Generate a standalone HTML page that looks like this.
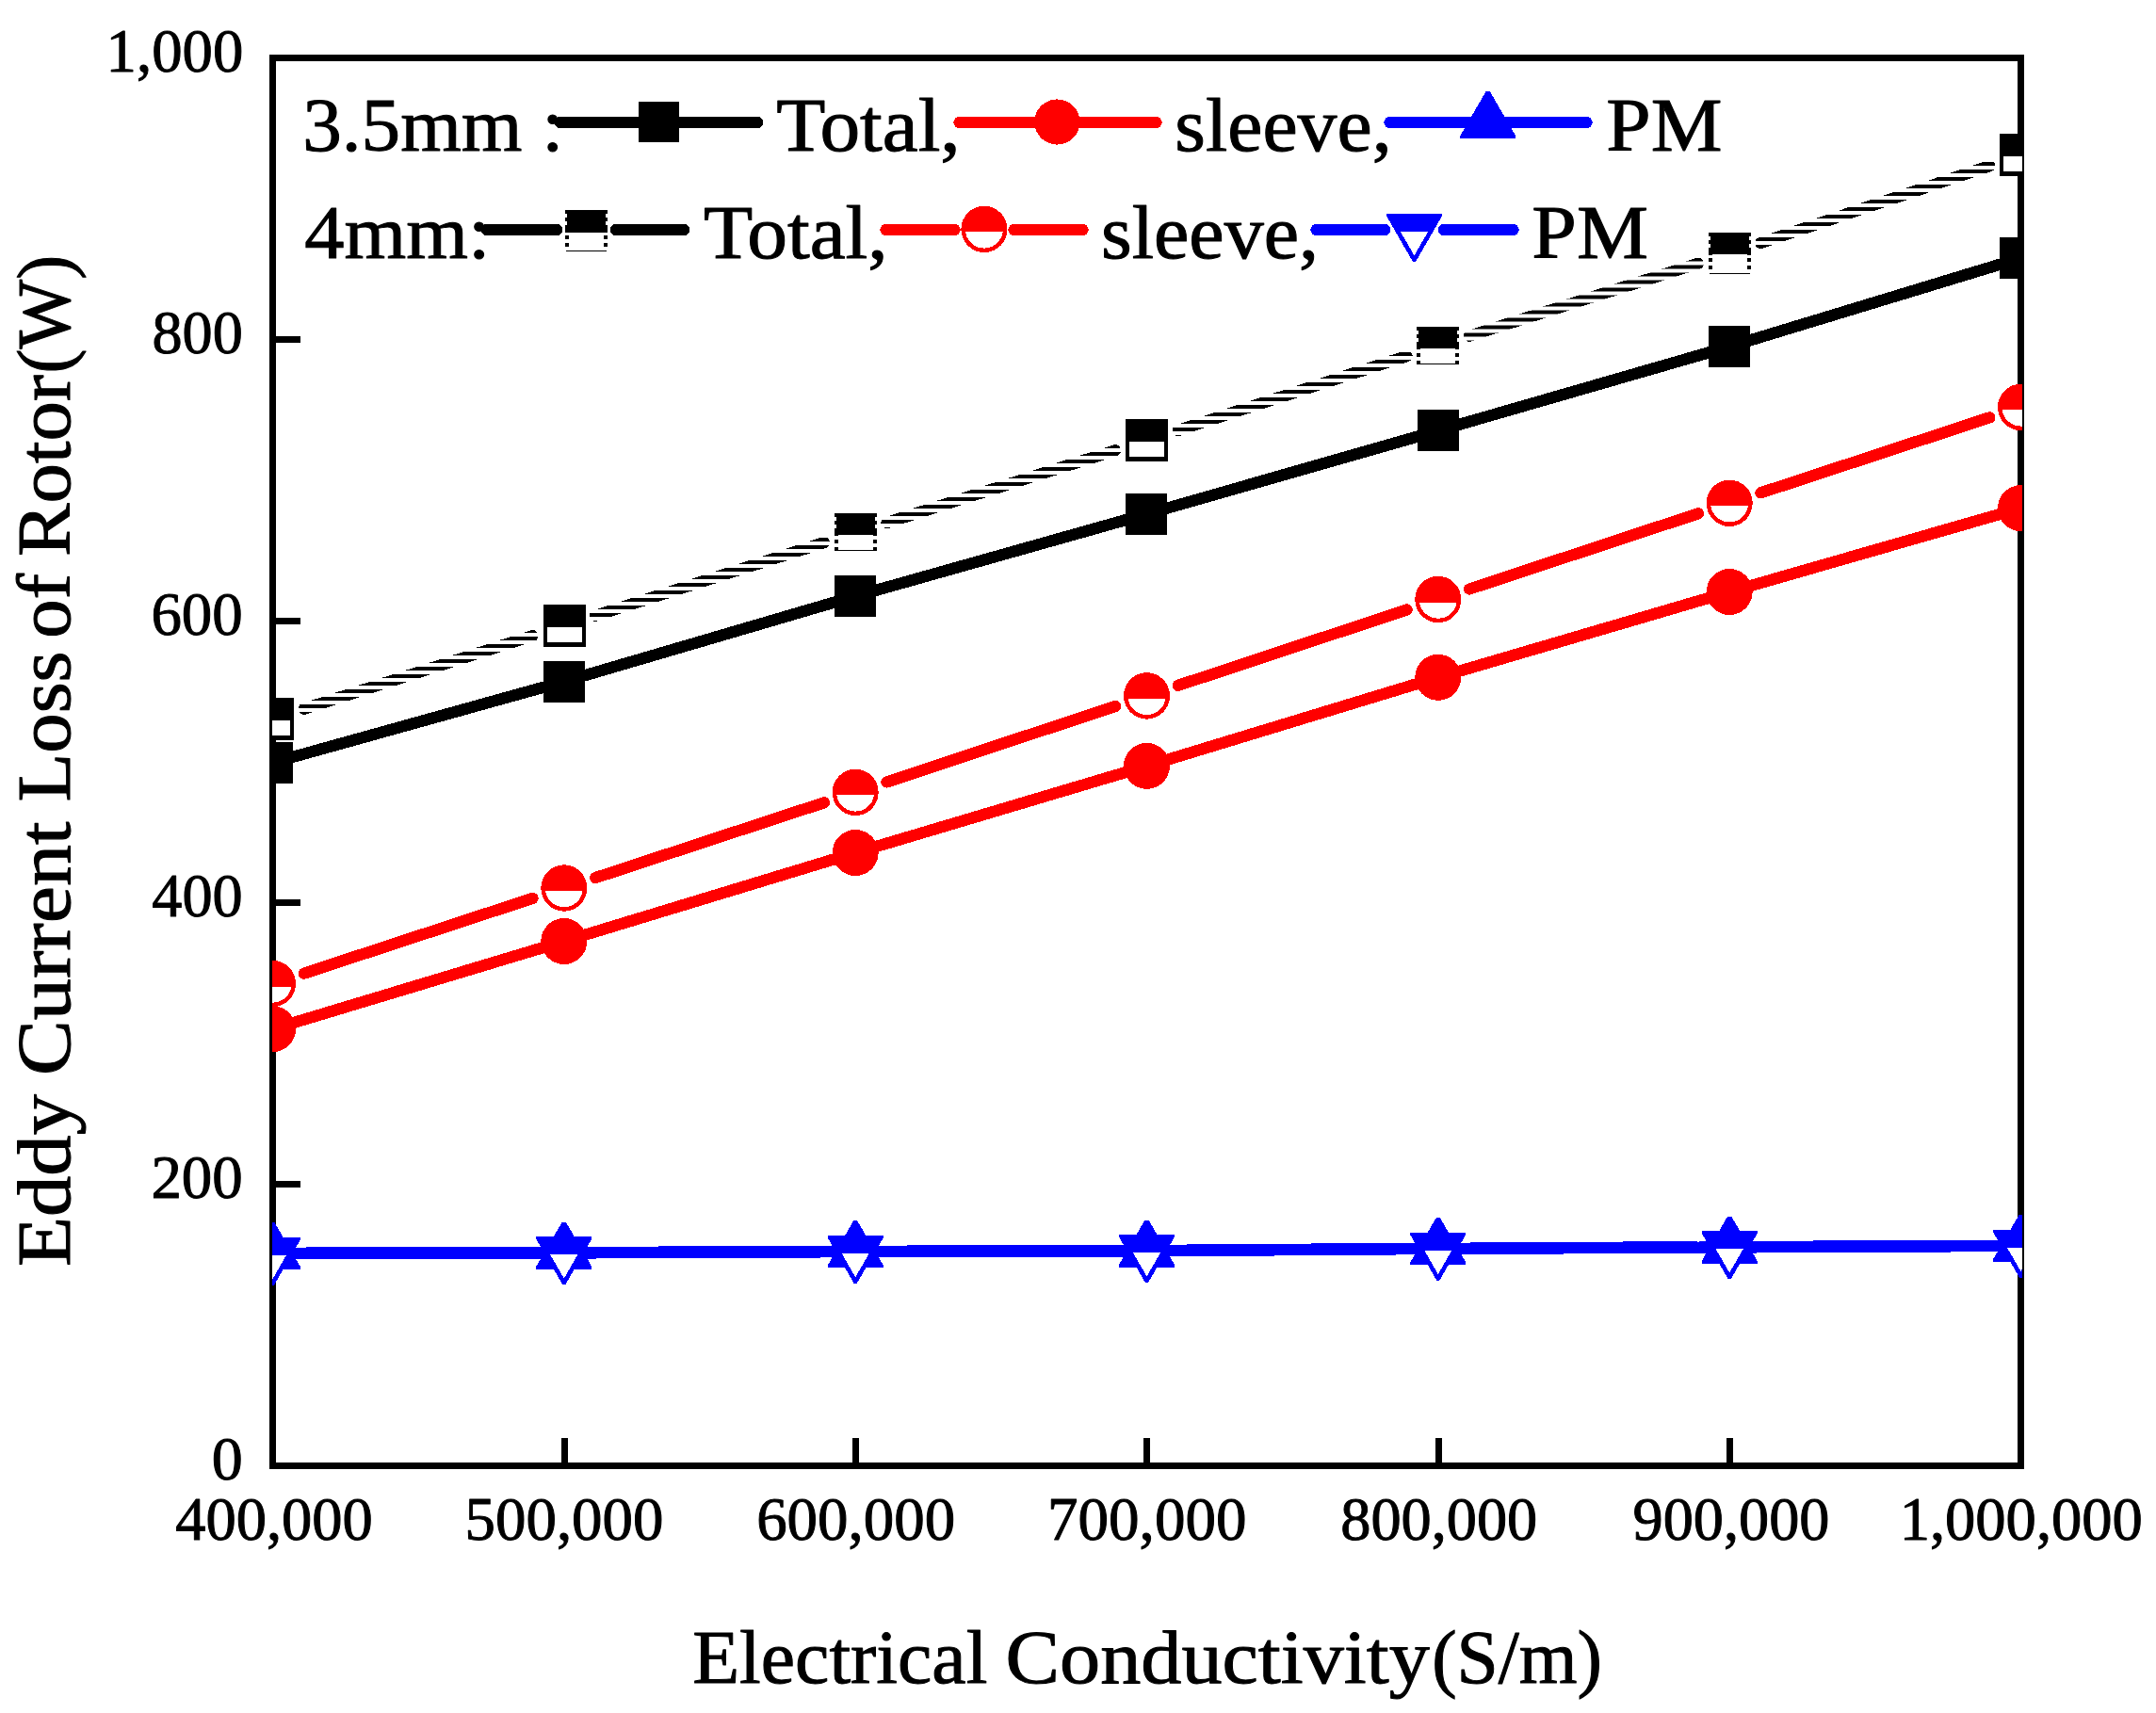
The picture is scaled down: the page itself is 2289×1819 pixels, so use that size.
<!DOCTYPE html>
<html><head><meta charset="utf-8"><title>Eddy Current Loss of Rotor</title>
<style>html,body{margin:0;padding:0;background:#fff}svg{display:block}text{font-family:"Liberation Serif",serif;fill:#000;stroke:#000;stroke-width:1px;stroke-linejoin:round}</style>
</head><body>
<svg width="2289" height="1819" viewBox="0 0 2289 1819">
<defs>
<clipPath id="plot"><rect x="289" y="58" width="1858" height="1502"/></clipPath>
<pattern id="hatch0" patternUnits="userSpaceOnUse" x="0" y="4" width="8" height="8"><rect x="0" y="0" width="8" height="4" fill="#000"/></pattern>
<pattern id="hatch1" patternUnits="userSpaceOnUse" x="0" y="3" width="8" height="8"><rect x="0" y="0" width="8" height="4" fill="#000"/></pattern>
<pattern id="hatch2" patternUnits="userSpaceOnUse" x="0" y="0" width="8" height="8"><rect x="0" y="0" width="8" height="4" fill="#000"/></pattern>
<pattern id="hatch3" patternUnits="userSpaceOnUse" x="0" y="6" width="8" height="8"><rect x="0" y="0" width="8" height="4" fill="#000"/></pattern>
<pattern id="hatch4" patternUnits="userSpaceOnUse" x="0" y="1.5" width="8" height="8"><rect x="0" y="0" width="8" height="4" fill="#000"/></pattern>
<pattern id="hatch5" patternUnits="userSpaceOnUse" x="0" y="4" width="8" height="8"><rect x="0" y="0" width="8" height="4" fill="#000"/></pattern>
</defs>
<rect x="0" y="0" width="2289" height="1819" fill="#fff"/>

<g fill="#000" shape-rendering="crispEdges">
<rect x="286" y="58" width="1863" height="7"/><rect x="286" y="1553" width="1863" height="7"/><rect x="286" y="58" width="7" height="1502"/><rect x="2142" y="58" width="7" height="1502"/>
<rect x="290" y="1254" width="29" height="7"/>
<rect x="290" y="955" width="29" height="7"/>
<rect x="290" y="656" width="29" height="7"/>
<rect x="290" y="357" width="29" height="7"/>
<rect x="596" y="1527" width="7" height="29"/>
<rect x="905" y="1527" width="7" height="29"/>
<rect x="1214" y="1527" width="7" height="29"/>
<rect x="1524" y="1527" width="7" height="29"/>
<rect x="1833" y="1527" width="7" height="29"/>
</g>
<g clip-path="url(#plot)" shape-rendering="crispEdges">
<polyline points="289.5,809.8 598.8,723.7 908.2,633.0 1217.5,545.8 1526.8,457.3 1836.2,368.0 2145.5,274.0" fill="none" stroke="#000" stroke-width="12.3" stroke-linecap="round" stroke-linejoin="round"/>
<rect x="267" y="788" width="44" height="44" fill="#000"/>
<rect x="577" y="702" width="44" height="44" fill="#000"/>
<rect x="886" y="611" width="44" height="44" fill="#000"/>
<rect x="1195" y="524" width="44" height="44" fill="#000"/>
<rect x="1505" y="435" width="44" height="44" fill="#000"/>
<rect x="1814" y="346" width="44" height="44" fill="#000"/>
<rect x="2123" y="252" width="44" height="44" fill="#000"/>
<polyline points="289.5,1092.7 598.8,999.5 908.2,905.5 1217.5,813.4 1526.8,719.3 1836.2,628.5 2145.5,539.6" fill="none" stroke="#f00" stroke-width="12.3" stroke-linecap="round" stroke-linejoin="round"/>
<circle cx="289.5" cy="1092.7" r="24.5" fill="#f00"/>
<circle cx="598.8" cy="999.5" r="24.5" fill="#f00"/>
<circle cx="908.2" cy="905.5" r="24.5" fill="#f00"/>
<circle cx="1217.5" cy="813.4" r="24.5" fill="#f00"/>
<circle cx="1526.8" cy="719.3" r="24.5" fill="#f00"/>
<circle cx="1836.2" cy="628.5" r="24.5" fill="#f00"/>
<circle cx="2145.5" cy="539.6" r="24.5" fill="#f00"/>
<polyline points="289.5,1331.0 598.8,1330.5 908.2,1329.2 1217.5,1328.4 1526.8,1326.0 1836.2,1324.5 2145.5,1323.0" fill="none" stroke="#00f" stroke-width="12.3" stroke-linecap="round" stroke-linejoin="round"/>
<polygon points="287.5,1298.1 291.5,1298.1 319.1,1345.5 319.1,1348.1 259.9,1348.1 259.9,1345.5" fill="#00f"/>
<polygon points="596.8,1297.6 600.8,1297.6 628.3,1345.0 628.3,1347.6 569.2,1347.6 569.2,1345.0" fill="#00f"/>
<polygon points="906.2,1296.3 910.2,1296.3 937.8,1343.7 937.8,1346.3 878.7,1346.3 878.7,1343.7" fill="#00f"/>
<polygon points="1215.5,1295.5 1219.5,1295.5 1247.0,1342.9 1247.0,1345.5 1188.0,1345.5 1188.0,1342.9" fill="#00f"/>
<polygon points="1524.8,1293.1 1528.8,1293.1 1556.3,1340.5 1556.3,1343.1 1497.2,1343.1 1497.2,1340.5" fill="#00f"/>
<polygon points="1834.2,1291.6 1838.2,1291.6 1865.8,1339.0 1865.8,1341.6 1806.7,1341.6 1806.7,1339.0" fill="#00f"/>
<polygon points="2143.5,1290.1 2147.5,1290.1 2175.1,1337.5 2175.1,1340.1 2115.9,1340.1 2115.9,1337.5" fill="#00f"/>
<line x1="322.8" y1="752.7" x2="565.5" y2="675.1" stroke="url(#hatch0)" stroke-width="12.3" stroke-linecap="round"/>
<line x1="632.1" y1="653.8" x2="874.9" y2="576.2" stroke="url(#hatch1)" stroke-width="12.3" stroke-linecap="round"/>
<line x1="941.6" y1="555.0" x2="1184.1" y2="478.3" stroke="url(#hatch2)" stroke-width="12.3" stroke-linecap="round"/>
<line x1="1250.8" y1="457.0" x2="1493.5" y2="378.1" stroke="url(#hatch3)" stroke-width="12.3" stroke-linecap="round"/>
<line x1="1560.2" y1="356.7" x2="1802.8" y2="279.8" stroke="url(#hatch4)" stroke-width="12.3" stroke-linecap="round"/>
<line x1="1869.4" y1="258.0" x2="2112.3" y2="176.2" stroke="url(#hatch5)" stroke-width="12.3" stroke-linecap="round"/>
<rect x="267" y="741" width="45" height="45" fill="#000"/><rect x="271" y="765" width="37" height="16" fill="#fff"/>
<rect x="577" y="642" width="45" height="45" fill="#000"/><rect x="581" y="666" width="37" height="16" fill="#fff"/>
<rect x="886" y="545" width="45" height="4" fill="#000"/><rect x="886" y="553" width="45" height="4" fill="#000"/><rect x="888" y="545" width="41" height="23" fill="#000"/><rect x="886" y="561" width="45" height="8" fill="#000"/><rect x="890" y="568" width="37" height="1" fill="#fff"/><rect x="886" y="573" width="4" height="4" fill="#000"/><rect x="927" y="573" width="4" height="4" fill="#000"/><rect x="886" y="581" width="4" height="4" fill="#000"/><rect x="927" y="581" width="4" height="4" fill="#000"/><rect x="887" y="584" width="43" height="1" fill="#000"/>
<rect x="1195" y="445" width="45" height="45" fill="#000"/><rect x="1199" y="469" width="37" height="16" fill="#fff"/>
<rect x="1504" y="347" width="45" height="4" fill="#000"/><rect x="1504" y="355" width="45" height="4" fill="#000"/><rect x="1506" y="347" width="41" height="23" fill="#000"/><rect x="1504" y="363" width="45" height="8" fill="#000"/><rect x="1508" y="370" width="37" height="1" fill="#fff"/><rect x="1504" y="375" width="4" height="4" fill="#000"/><rect x="1545" y="375" width="4" height="4" fill="#000"/><rect x="1504" y="383" width="4" height="4" fill="#000"/><rect x="1545" y="383" width="4" height="4" fill="#000"/><rect x="1505" y="386" width="43" height="1" fill="#000"/>
<rect x="1814" y="247" width="45" height="4" fill="#000"/><rect x="1814" y="255" width="45" height="4" fill="#000"/><rect x="1816" y="247" width="41" height="23" fill="#000"/><rect x="1814" y="263" width="45" height="8" fill="#000"/><rect x="1818" y="270" width="37" height="1" fill="#fff"/><rect x="1814" y="274" width="4" height="4" fill="#000"/><rect x="1855" y="274" width="4" height="4" fill="#000"/><rect x="1814" y="282" width="4" height="4" fill="#000"/><rect x="1855" y="282" width="4" height="4" fill="#000"/><rect x="1815" y="290" width="43" height="1" fill="#000"/>
<rect x="2123" y="142" width="45" height="45" fill="#000"/><rect x="2127" y="166" width="37" height="16" fill="#fff"/>
<line x1="322.8" y1="1033.6" x2="565.5" y2="953.9" stroke="#f00" stroke-width="12.3" stroke-linecap="round"/>
<line x1="632.1" y1="932.1" x2="874.9" y2="852.3" stroke="#f00" stroke-width="12.3" stroke-linecap="round"/>
<line x1="941.4" y1="830.4" x2="1184.3" y2="749.9" stroke="#f00" stroke-width="12.3" stroke-linecap="round"/>
<line x1="1250.7" y1="727.9" x2="1493.6" y2="647.5" stroke="#f00" stroke-width="12.3" stroke-linecap="round"/>
<line x1="1560.0" y1="625.5" x2="1803.0" y2="545.3" stroke="#f00" stroke-width="12.3" stroke-linecap="round"/>
<line x1="1869.4" y1="523.3" x2="2112.3" y2="443.4" stroke="#f00" stroke-width="12.3" stroke-linecap="round"/>
<ellipse cx="289.5" cy="1044.5" rx="24.5" ry="24.7" fill="#f00"/><path d="M269.7,1047.5 A20.0,20.0 0 0 0 309.3,1047.5 Z" fill="#fff"/>
<ellipse cx="598.8" cy="943.0" rx="24.5" ry="24.7" fill="#f00"/><path d="M579.0,946.0 A20.0,20.0 0 0 0 618.6,946.0 Z" fill="#fff"/>
<ellipse cx="908.2" cy="841.4" rx="24.5" ry="24.7" fill="#f00"/><path d="M888.4,844.4 A20.0,20.0 0 0 0 928.0,844.4 Z" fill="#fff"/>
<ellipse cx="1217.5" cy="738.9" rx="24.5" ry="24.7" fill="#f00"/><path d="M1197.7,741.9 A20.0,20.0 0 0 0 1237.3,741.9 Z" fill="#fff"/>
<ellipse cx="1526.8" cy="636.5" rx="24.5" ry="24.7" fill="#f00"/><path d="M1507.0,639.5 A20.0,20.0 0 0 0 1546.6,639.5 Z" fill="#fff"/>
<ellipse cx="1836.2" cy="534.3" rx="24.5" ry="24.7" fill="#f00"/><path d="M1816.4,537.3 A20.0,20.0 0 0 0 1856.0,537.3 Z" fill="#fff"/>
<ellipse cx="2145.5" cy="432.4" rx="24.5" ry="24.7" fill="#f00"/><path d="M2125.7,435.4 A20.0,20.0 0 0 0 2165.3,435.4 Z" fill="#fff"/>
<line x1="325.5" y1="1330.5" x2="562.8" y2="1330.2" stroke="#00f" stroke-width="12.3" stroke-linecap="round"/>
<line x1="634.8" y1="1329.9" x2="872.2" y2="1329.0" stroke="#00f" stroke-width="12.3" stroke-linecap="round"/>
<line x1="944.2" y1="1328.7" x2="1181.5" y2="1328.1" stroke="#00f" stroke-width="12.3" stroke-linecap="round"/>
<line x1="1253.5" y1="1327.7" x2="1490.8" y2="1325.9" stroke="#00f" stroke-width="12.3" stroke-linecap="round"/>
<line x1="1562.8" y1="1325.4" x2="1800.2" y2="1324.3" stroke="#00f" stroke-width="12.3" stroke-linecap="round"/>
<line x1="1872.2" y1="1323.9" x2="2109.5" y2="1322.8" stroke="#00f" stroke-width="12.3" stroke-linecap="round"/>
<polygon points="259.9,1313.5 319.1,1313.5 319.1,1316.1 291.0,1364.7 288.0,1364.7 259.9,1316.1" fill="#00f"/><polygon points="274.9,1332.6 304.1,1332.6 289.5,1358.0" fill="#fff"/>
<polygon points="569.2,1313.0 628.3,1313.0 628.3,1315.6 600.3,1364.2 597.3,1364.2 569.2,1315.6" fill="#00f"/><polygon points="584.1,1332.1 613.4,1332.1 598.8,1357.5" fill="#fff"/>
<polygon points="878.7,1311.7 937.8,1311.7 937.8,1314.3 909.7,1362.9 906.7,1362.9 878.7,1314.3" fill="#00f"/><polygon points="893.6,1330.8 922.9,1330.8 908.2,1356.2" fill="#fff"/>
<polygon points="1188.0,1310.9 1247.0,1310.9 1247.0,1313.5 1219.0,1362.1 1216.0,1362.1 1188.0,1313.5" fill="#00f"/><polygon points="1202.8,1330.0 1232.2,1330.0 1217.5,1355.4" fill="#fff"/>
<polygon points="1497.2,1308.5 1556.3,1308.5 1556.3,1311.1 1528.3,1359.7 1525.3,1359.7 1497.2,1311.1" fill="#00f"/><polygon points="1512.1,1327.6 1541.5,1327.6 1526.8,1353.0" fill="#fff"/>
<polygon points="1806.7,1307.0 1865.8,1307.0 1865.8,1309.6 1837.7,1358.2 1834.7,1358.2 1806.7,1309.6" fill="#00f"/><polygon points="1821.5,1326.1 1850.9,1326.1 1836.2,1351.5" fill="#fff"/>
<polygon points="2115.9,1305.5 2175.1,1305.5 2175.1,1308.1 2147.0,1356.7 2144.0,1356.7 2115.9,1308.1" fill="#00f"/><polygon points="2130.8,1324.6 2160.2,1324.6 2145.5,1350.0" fill="#fff"/>
</g>
<g shape-rendering="crispEdges">
<line x1="594.95" y1="130" x2="803.95" y2="130" stroke="#000" stroke-width="12.3" stroke-linecap="round"/>
<rect x="678" y="108" width="43" height="43" fill="#000"/>
<line x1="1018.5" y1="130" x2="1227.5" y2="130" stroke="#f00" stroke-width="12.3" stroke-linecap="round"/>
<circle cx="1122.3" cy="129.5" r="24.1" fill="#f00"/>
<line x1="1475.5" y1="130" x2="1684.5" y2="130" stroke="#00f" stroke-width="12.3" stroke-linecap="round"/>
<polygon points="1577.7,96.9 1581.7,96.9 1609.2,144.3 1609.2,146.9 1550.2,146.9 1550.2,144.3" fill="#00f"/>
<line x1="517.0" y1="244" x2="591.0" y2="244" stroke="#000" stroke-width="12.3" stroke-linecap="round"/><line x1="654.0" y1="244" x2="726.0" y2="244" stroke="#000" stroke-width="12.3" stroke-linecap="round"/>
<rect x="600" y="223" width="45" height="4" fill="#000"/><rect x="600" y="231" width="45" height="4" fill="#000"/><rect x="602" y="223" width="41" height="23" fill="#000"/><rect x="600" y="239" width="45" height="3.5" fill="#000"/><rect x="600" y="243" width="45" height="4" fill="#000"/><rect x="600" y="250" width="4" height="4" fill="#000"/><rect x="641" y="250" width="4" height="4" fill="#000"/><rect x="600" y="258" width="4" height="4" fill="#000"/><rect x="641" y="258" width="4" height="4" fill="#000"/><rect x="601" y="266" width="43" height="1" fill="#000"/>
<line x1="940.5" y1="244" x2="1013.5" y2="244" stroke="#f00" stroke-width="12.3" stroke-linecap="round"/><line x1="1076.5" y1="244" x2="1149.5" y2="244" stroke="#f00" stroke-width="12.3" stroke-linecap="round"/>
<ellipse cx="1044.9" cy="243.4" rx="24.5" ry="24.7" fill="#f00"/><path d="M1025.1,246.4 A20.0,20.0 0 0 0 1064.7,246.4 Z" fill="#fff"/>
<line x1="1397.5" y1="244" x2="1470.0" y2="244" stroke="#00f" stroke-width="12.3" stroke-linecap="round"/><line x1="1533.0" y1="244" x2="1606.5" y2="244" stroke="#00f" stroke-width="12.3" stroke-linecap="round"/>
<polygon points="1472.0,226.8 1531.0,226.8 1531.0,229.4 1503.0,278.0 1500.0,278.0 1472.0,229.4" fill="#00f"/><polygon points="1486.8,245.9 1516.2,245.9 1501.5,271.3" fill="#fff"/>
</g>
<text x="224.80" y="1571.2" font-size="66" textLength="33.00" lengthAdjust="spacingAndGlyphs">0</text>
<text x="160.45" y="1272.2" font-size="66" textLength="97.31" lengthAdjust="spacingAndGlyphs">200</text>
<text x="161.33" y="973.2" font-size="66" textLength="96.42" lengthAdjust="spacingAndGlyphs">400</text>
<text x="160.45" y="674.2" font-size="66" textLength="97.31" lengthAdjust="spacingAndGlyphs">600</text>
<text x="161.45" y="375.2" font-size="66" textLength="96.29" lengthAdjust="spacingAndGlyphs">800</text>
<text x="112.62" y="76.2" font-size="66" textLength="145.64" lengthAdjust="spacingAndGlyphs">1,000</text>
<text x="186.22" y="1635.2" font-size="66" textLength="209.62" lengthAdjust="spacingAndGlyphs">400,000</text>
<text x="493.57" y="1635.2" font-size="66" textLength="210.89" lengthAdjust="spacingAndGlyphs">500,000</text>
<text x="803.15" y="1635.2" font-size="66" textLength="211.01" lengthAdjust="spacingAndGlyphs">600,000</text>
<text x="1112.06" y="1635.2" font-size="66" textLength="211.41" lengthAdjust="spacingAndGlyphs">700,000</text>
<text x="1423.25" y="1635.2" font-size="66" textLength="208.98" lengthAdjust="spacingAndGlyphs">800,000</text>
<text x="1733.55" y="1635.2" font-size="66" textLength="208.88" lengthAdjust="spacingAndGlyphs">900,000</text>
<text x="2016.63" y="1635.2" font-size="66" textLength="258.23" lengthAdjust="spacingAndGlyphs">1,000,000</text>
<text x="735.17" y="1787.0" font-size="80.5" textLength="313.23" lengthAdjust="spacingAndGlyphs">Electrical</text>
<text x="1067.49" y="1787.0" font-size="80.5" textLength="450.43" lengthAdjust="spacingAndGlyphs">Conductivity</text>
<text x="1520.14" y="1787.0" font-size="80.5" textLength="180.89" lengthAdjust="spacingAndGlyphs">(S/m)</text>
<text transform="translate(73.6,1343.3) rotate(-90)" x="-1.65" y="0" font-size="80.5" textLength="182.99" lengthAdjust="spacingAndGlyphs">Eddy</text>
<text transform="translate(73.6,1343.3) rotate(-90)" x="201.21" y="0" font-size="80.5" textLength="269.68" lengthAdjust="spacingAndGlyphs">Current</text>
<text transform="translate(73.6,1343.3) rotate(-90)" x="491.90" y="0" font-size="80.5" textLength="159.94" lengthAdjust="spacingAndGlyphs">Loss</text>
<text transform="translate(73.6,1343.3) rotate(-90)" x="665.52" y="0" font-size="80.5" textLength="68.74" lengthAdjust="spacingAndGlyphs">of</text>
<text transform="translate(73.6,1343.3) rotate(-90)" x="752.40" y="0" font-size="80.5" textLength="192.90" lengthAdjust="spacingAndGlyphs">Rotor</text>
<text transform="translate(73.6,1343.3) rotate(-90)" x="946.79" y="0" font-size="80.5" textLength="125.71" lengthAdjust="spacingAndGlyphs">(W)</text>
<text x="321.27" y="160.0" font-size="80.5" textLength="276.99" lengthAdjust="spacingAndGlyphs">3.5mm :</text>
<text x="824.34" y="160.0" font-size="80.5" textLength="195.37" lengthAdjust="spacingAndGlyphs">Total,</text>
<text x="1247.38" y="160.0" font-size="80.5" textLength="230.20" lengthAdjust="spacingAndGlyphs">sleeve,</text>
<text x="1705.38" y="160.0" font-size="80.5" textLength="123.22" lengthAdjust="spacingAndGlyphs">PM</text>
<text x="323.30" y="274.0" font-size="80.5" textLength="197.30" lengthAdjust="spacingAndGlyphs">4mm:</text>
<text x="746.94" y="274.0" font-size="80.5" textLength="195.79" lengthAdjust="spacingAndGlyphs">Total,</text>
<text x="1168.97" y="274.0" font-size="80.5" textLength="231.03" lengthAdjust="spacingAndGlyphs">sleeve,</text>
<text x="1626.38" y="274.0" font-size="80.5" textLength="123.63" lengthAdjust="spacingAndGlyphs">PM</text>
</svg></body></html>
